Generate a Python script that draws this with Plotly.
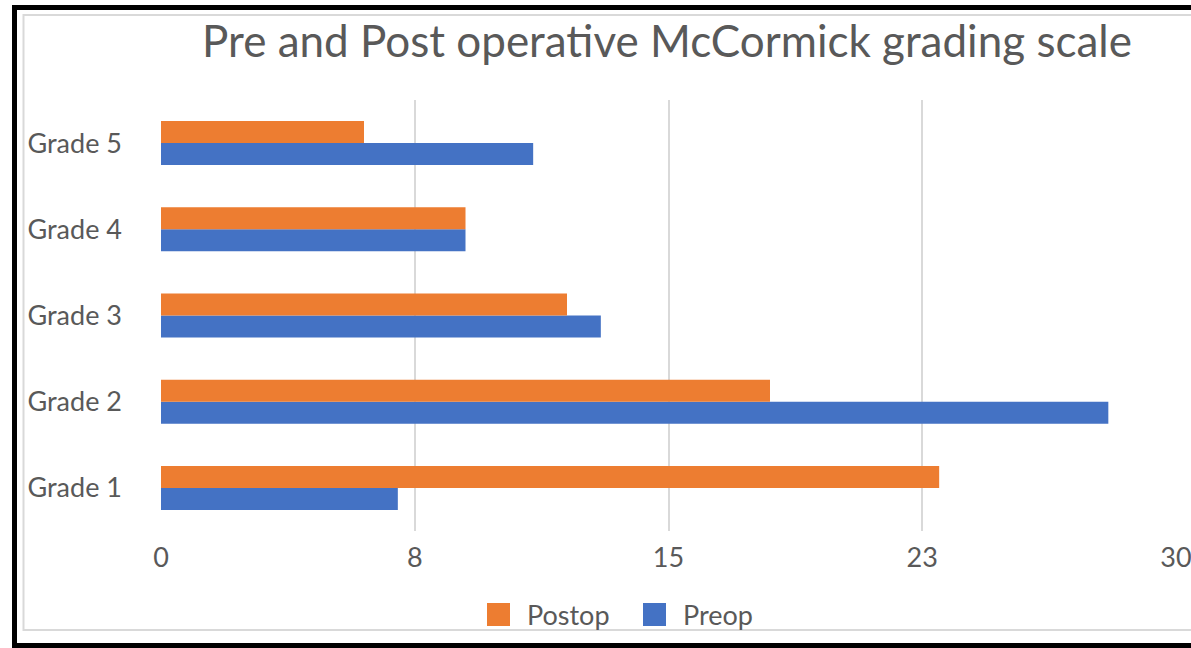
import plotly.graph_objects as go

categories = ["Grade 1", "Grade 2", "Grade 3", "Grade 4", "Grade 5"]
preop = [7, 28, 13, 9, 11]
postop = [23, 18, 12, 9, 6]
tick_vals = [0, 7.5, 15, 22.5, 30]
tick_text = ["0", "8", "15", "23", "30"]
series_names = ["Preop", "Postop"]
series_colors = ["#4472C4", "#ED7D31"]

W, H = 1191, 648
L, R, T, B = 161, 15, 100, 117
PW, PH = W - L - R, H - T - B

def px(x):
    return (x - L) / PW

def py(y):
    return (H - B - y) / PH

FONT = "Lato"
GREY = "#595959"

fig = go.Figure()
for name, vals, col in zip(series_names, [preop, postop], series_colors):
    fig.add_trace(go.Bar(y=categories, x=vals, name=name, orientation="h",
                         marker=dict(color=col, line=dict(width=0)),
                         showlegend=False))

# manual legend (Postop first, then Preop)
legend_items = [("Postop", "#ED7D31", 487), ("Preop", "#4472C4", 643)]
shapes = []
annotations = []
for name, col, x0 in legend_items:
    shapes.append(dict(type="rect", xref="paper", yref="paper",
                       x0=px(x0), x1=px(x0 + 23), y0=py(626), y1=py(603),
                       fillcolor=col, line=dict(width=0)))
    annotations.append(dict(text=name, xref="paper", yref="paper",
                            x=px(x0 + 38), y=py(614), xanchor="left",
                            yanchor="middle", showarrow=False,
                            font=dict(family=FONT, size=27, color=GREY)))

def line(x0, y0, x1, y1, color, width, layer="above"):
    return dict(type="line", xref="paper", yref="paper",
                x0=px(x0), y0=py(y0), x1=px(x1), y1=py(y1),
                line=dict(color=color, width=width), layer=layer)

# inner light frame (open on the right)
shapes += [
    line(23.5, 15, 1300, 15, "#d9d9d9", 2, "below"),
    line(23.5, 630, 1300, 630, "#d9d9d9", 2, "below"),
    line(23.5, 14, 23.5, 631, "#d9d9d9", 2, "below"),
]
# outer black frame (open on the right)
shapes += [
    line(12, 7.5, 1300, 7.5, "black", 5),
    line(12, 645.5, 1300, 645.5, "black", 5),
    line(14.5, 5, 14.5, 648, "black", 5),
]

fig.update_layout(
    width=W, height=H,
    margin=dict(l=L, r=R, t=T, b=B, pad=0, autoexpand=False),
    paper_bgcolor="white", plot_bgcolor="white",
    barmode="group", bargap=0.49, bargroupgap=0,
    font=dict(family=FONT, color=GREY, size=27),
    title=dict(text="Pre and Post operative McCormick grading scale",
               x=px(667), xref="paper", xanchor="center",
               y=1 - 42 / H, yref="container", yanchor="middle",
               font=dict(family=FONT, size=44, color=GREY)),
    showlegend=False,
    xaxis=dict(range=[0, 30], tickvals=tick_vals, ticktext=tick_text,
               showgrid=True, gridcolor="#d9d9d9", gridwidth=2,
               zeroline=False, showline=False, ticks="", automargin=False,
               ticklabelstandoff=8, ticklabeloverflow="allow",
               tickfont=dict(family=FONT, size=27, color=GREY)),
    yaxis=dict(categoryorder="array", categoryarray=categories,
               showgrid=False, zeroline=False, showline=False, ticks="",
               automargin=False, ticklabelstandoff=38,
               tickfont=dict(family=FONT, size=27, color=GREY)),
    shapes=shapes,
    annotations=annotations,
)

fig.write_html("out.html")
